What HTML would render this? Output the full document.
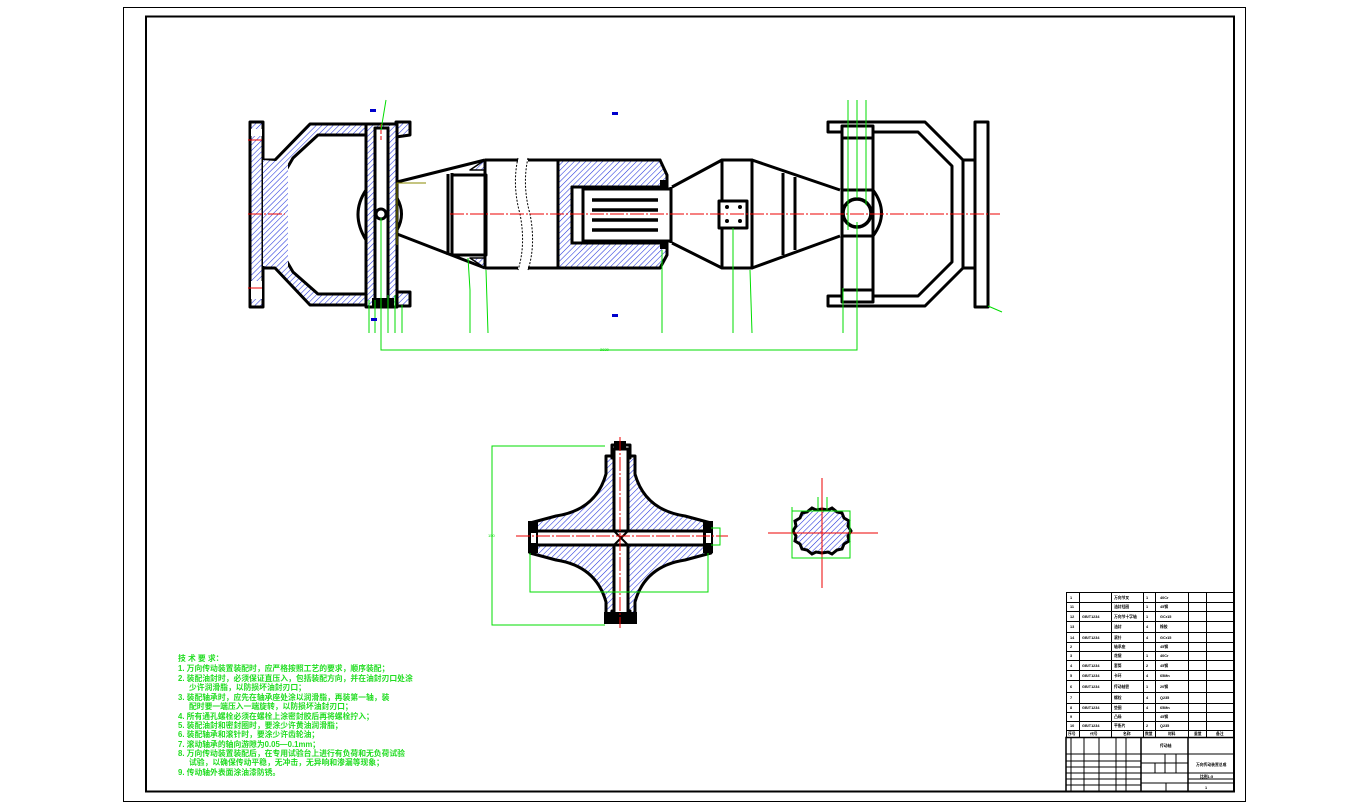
<!DOCTYPE html>
<html><head><meta charset="utf-8"><style>
html,body{margin:0;padding:0;background:#fff;}
svg{display:block;}
.t{font-family:"Liberation Sans","Noto Sans CJK SC",sans-serif;}
</style></head><body>
<svg width="1369" height="809" viewBox="0 0 1369 809" xmlns="http://www.w3.org/2000/svg">
<defs>
<pattern id="h" width="4" height="4" patternUnits="userSpaceOnUse" patternTransform="rotate(45)">
<rect width="4" height="4" fill="#fff"/><line x1="0" y1="0" x2="0" y2="4" stroke="#2233dd" stroke-width="1.1"/>
</pattern>
</defs>
<rect x="0" y="0" width="1369" height="809" fill="#fff"/>
<rect x="123.5" y="7.5" width="1122" height="794" fill="none" stroke="#000" stroke-width="1"/>
<rect x="146" y="16.5" width="1088" height="775" fill="none" stroke="#000" stroke-width="2"/>

<!-- ===== LEFT YOKE ===== -->
<g stroke="#000" stroke-width="3" stroke-linejoin="round">
<rect x="250" y="122" width="13" height="185" fill="url(#h)"/>
<rect x="251" y="129" width="11" height="7" fill="#fff" stroke="none"/>
<rect x="251" y="281" width="11" height="18" fill="#fff" stroke="none"/>
<path d="M263,160 L275,160 L310,124 L366,124 L366,135 L318,135 L293,158 L286,170 L286,260 L293,272 L318,294 L366,294 L366,305 L310,305 L275,268 L263,268 Z" fill="url(#h)"/>
<path d="M263,160 L288,162 L288,266 L263,266 Z" fill="url(#h)" stroke="none"/>
<path d="M396,122 L410,122 L410,135 L396,137 Z M396,292 L410,292 L410,306 L396,306 Z" fill="url(#h)"/>
<rect x="366" y="124" width="31" height="183" fill="url(#h)"/>
<rect x="375" y="128" width="13" height="175" fill="#fff"/>
<circle cx="381" cy="214" r="5" fill="#fff"/>
<path d="M366,190 Q350,214 366,240" fill="none"/>
<path d="M397,198 Q406,214 397,230" fill="none"/>
</g>
<rect x="372" y="298" width="22" height="9" fill="#000"/>
<line x1="381" y1="124" x2="381" y2="140" stroke="#e00" stroke-width="1" stroke-dasharray="4,2"/>

<!-- ===== SHAFT ===== -->
<g stroke="#000" stroke-width="3" stroke-linejoin="round" fill="none">
<path d="M397,182 L485,160 M397,234 L485,268"/>
<path d="M448,174 L448,255 M452,173 L452,256"/>
<rect x="452" y="175" width="34" height="80" fill="#fff"/>
<path d="M470,170 L485,160 L485,170 Z M470,258 L485,268 L485,258 Z" fill="url(#h)" stroke-width="1.5"/>
<path d="M485,160 L518,160 M485,268 L518,268 M528,160 L660,160 L660,268 L528,268"/>
<path d="M485,160 L485,268 M558,160 L558,268"/>
<path d="M558,160 L660,160 L667,175 L667,187 L572,187 L572,243 L667,243 L667,255 L660,268 L558,268 Z" fill="url(#h)"/>
<rect x="572" y="187" width="11" height="56" fill="#fff"/>
<rect x="583" y="189" width="88" height="52" fill="#fff"/>
<path d="M592,200 L658,200 M592,210 L658,210 M592,220 L658,220 M592,230 L658,230" stroke-width="3.5"/>
<path d="M671,187 L671,243"/>
<path d="M672,187 L722,160 M672,243 L722,268"/>
<rect x="722" y="160" width="30" height="108" fill="#fff"/>
<rect x="719" y="201" width="28" height="27" fill="#fff"/>
<path d="M752,160 L840,190 M752,268 L840,236 M783,173 L783,255 M795,177 L795,250"/>
</g>
<path d="M518,158 Q512,185 520,214 Q526,245 518,270 M528,158 Q522,185 530,214 Q536,245 528,270" fill="none" stroke="#000" stroke-width="1" stroke-dasharray="2,1.5"/>
<g fill="#000"><circle cx="727" cy="207" r="2"/><circle cx="740" cy="207" r="2"/><circle cx="727" cy="221" r="2"/><circle cx="740" cy="221" r="2"/>
<rect x="660" y="180" width="8" height="8"/><rect x="660" y="241" width="8" height="8"/></g>
<path d="M397,245 L397,183 L426,183" fill="none" stroke="#880" stroke-width="1"/>

<!-- ===== RIGHT YOKE ===== -->
<g stroke="#000" stroke-width="3" stroke-linejoin="round" fill="none">
<path d="M828,122 L925,122 L963,160 L963,268 L925,306 L828,306 L828,296 L918,296 L952,262 L952,166 L918,132 L828,132 Z" fill="#fff"/>
<rect x="842" y="126" width="31" height="176" fill="#fff"/>
<path d="M842,138 L873,138 M842,290 L873,290 M842,190 L873,190 M842,236 L873,236"/>
<path d="M873,190 Q890,213 873,236"/>
<circle cx="857" cy="213" r="14" fill="#fff" stroke-width="3.5"/>
<rect x="963" y="160" width="12" height="108" fill="#fff"/>
<rect x="975" y="122" width="13" height="185" fill="#fff"/>
</g>

<g stroke="#e00" stroke-width="1" stroke-dasharray="14,2,2,2">
<line x1="248" y1="214" x2="285" y2="214"/>
<line x1="450" y1="214" x2="1000" y2="214"/>
<line x1="248" y1="140" x2="262" y2="140"/><line x1="248" y1="288" x2="262" y2="288"/>
</g>

<g stroke="#0d0" stroke-width="1" fill="none">
<path d="M381,218 L381,350 L857,350 L857,222"/>
<path d="M369,300 L369,333 M375,300 L375,333 M388,295 L388,333 M395,295 L395,333 M402,305 L402,333"/>
<path d="M468,258 L470,290 L470,333 M486,270 L488,333 M662,250 L662,290 L662,333 M733,228 L733,333 M750,270 L752,333 M843,288 L843,333 M848,230 L848,100 M857,198 L857,100 M866,205 L866,100"/>
<path d="M381,130 L386,100 M988,306 L1002,312"/>
</g>
<g fill="#00c"><rect x="370" y="109" width="6" height="3"/><rect x="612" y="112" width="6" height="3"/><rect x="612" y="314" width="6" height="3"/><rect x="371" y="318" width="6" height="3"/></g>
<text x="600" y="351" class="t" font-size="4" fill="#0d0">2830</text>

<!-- ===== CROSS ===== -->
<g stroke="#000" stroke-width="3" stroke-linejoin="round">
<path d="M606,456 L606,474 Q596,510 556,516 L530,523 L530,553 L556,560 Q596,566 606,602 L606,622 L635,622 L635,602 Q645,566 685,560 L711,553 L711,523 L685,516 Q645,510 635,474 L635,456 Z" fill="url(#h)"/>
<path d="M612,445 L630,445 L630,458 L612,458 Z M612,611 L630,611 L630,622 L612,622 Z" fill="#fff"/>
<rect x="614" y="449" width="14" height="170" fill="#fff"/>
<rect x="536" y="531" width="170" height="14" fill="#fff"/>
</g>
<g fill="#000"><rect x="528" y="521" width="10" height="32"/><rect x="703" y="521" width="10" height="32"/><rect x="604" y="612" width="33" height="12"/><rect x="614" y="441" width="12" height="8"/></g>
<rect x="531" y="533" width="5" height="10" fill="#fff"/>
<rect x="706" y="533" width="5" height="10" fill="#fff"/>
<path d="M614,531 L628,545 M628,531 L614,545" stroke="#000" stroke-width="2"/>
<g stroke="#e00" stroke-width="1" stroke-dasharray="14,2,2,2"><line x1="620" y1="437" x2="620" y2="628"/><line x1="516" y1="536" x2="728" y2="536"/></g>
<g stroke="#0d0" stroke-width="1" fill="none">
<path d="M605,446 L492,446 L492,625 L605,625 M530,553 L530,592 L708,592 L708,553 M711,528 L720,528 L720,545 L711,545"/>
</g>
<text x="488" y="537" class="t" font-size="4" fill="#0d0">150</text>

<!-- ===== SPLINE ===== -->
<path d="M822,509 l6,1 l4,-2 l5,4 l5,1 l2,5 l5,3 l-1,5 l3,5 l-3,5 l1,5 l-5,3 l-2,5 l-5,1 l-5,4 l-4,-2 l-6,1 l-6,-1 l-4,2 l-5,-4 l-5,-1 l-2,-5 l-5,-3 l1,-5 l-3,-5 l3,-5 l-1,-5 l5,-3 l2,-5 l5,-1 l5,-4 l4,2 Z" fill="url(#h)" stroke="#000" stroke-width="3"/>
<g stroke="#e00" stroke-width="1"><line x1="822" y1="478" x2="822" y2="588"/><line x1="768" y1="533" x2="878" y2="533"/></g>
<g stroke="#0d0" stroke-width="1" fill="none"><path d="M792,507 L792,558 L850,558 L850,511 L792,511 M818,497 L818,510 M827,497 L827,510"/></g>

<!-- ===== TECH REQUIREMENTS ===== -->
<g class="t" font-size="7.8" fill="#2d2" font-weight="bold">
<text x="178" y="661">技 术 要 求：</text>
<text x="178" y="671">1. 万向传动装置装配时，应严格按照工艺的要求，顺序装配；</text>
<text x="178" y="681">2. 装配油封时，必须保证直压入，包括装配方向，并在油封刃口处涂</text>
<text x="189" y="690">少许润滑脂，以防损坏油封刃口；</text>
<text x="178" y="700">3. 装配轴承时，应先在轴承座处涂以润滑脂，再装第一轴，装</text>
<text x="189" y="709">配时要一端压入一端旋转，以防损坏油封刃口；</text>
<text x="178" y="719">4. 所有通孔螺栓必须在螺栓上涂密封胶后再将螺栓拧入；</text>
<text x="178" y="728">5. 装配油封和密封圈时，要涂少许黄油润滑脂；</text>
<text x="178" y="737">6. 装配轴承和滚针时，要涂少许齿轮油；</text>
<text x="178" y="747">7. 滚动轴承的轴向游隙为0.05—0.1mm；</text>
<text x="178" y="756">8. 万向传动装置装配后，在专用试验台上进行有负荷和无负荷试验</text>
<text x="189" y="765">试验，以确保传动平稳，无冲击，无异响和渗漏等现象；</text>
<text x="178" y="775">9. 传动轴外表面涂油漆防锈。</text>
</g>

<!-- ===== BOM TABLE ===== -->
<g stroke="#000" stroke-width="1" fill="none">
<rect x="1066.5" y="592.5" width="167" height="145"/>
<path d="M1079.5,593 V737 M1111.5,593 V737 M1143.5,593 V737 M1155.5,593 V737 M1188.5,593 V737 M1206.5,593 V737"/>
<path d="M1067,602.5 H1234 M1067,611.5 H1234 M1067,621.5 H1234 M1067,632.5 H1234 M1067,642.5 H1234 M1067,651.5 H1234 M1067,660.5 H1234 M1067,670.5 H1234 M1067,680.5 H1234 M1067,692.5 H1234 M1067,703.5 H1234 M1067,712.5 H1234 M1067,721.5 H1234 M1067,730.5 H1234"/>
</g>
<g stroke="#000" stroke-width="1.5" fill="none">
<rect x="1066" y="737.5" width="168" height="54"/>
<path d="M1141,738 V791 M1188,738 V791"/>
</g>
<g stroke="#000" stroke-width="1" fill="none">
<path d="M1071,738 V791 M1084,738 V791 M1099,738 V791 M1116,738 V791 M1126,738 V791 M1066,754 H1141 M1066,761 H1141 M1066,767 H1141 M1066,773 H1141 M1066,779 H1141 M1066,785 H1141"/>
<path d="M1141,754 H1234 M1141,773 H1234 M1188,779 H1234 M1141,783 H1234 M1165,754 V773 M1176,754 V773 M1155,763 V773 M1141,763 H1188 M1166,783 V791"/>
</g>
<g class="t" font-size="3.8" fill="#000" font-weight="bold">
<text x="1070" y="599">1</text><text x="1070" y="608">11</text><text x="1070" y="618">12</text><text x="1070" y="628">13</text><text x="1070" y="639">14</text>
<text x="1070" y="648">2</text><text x="1070" y="657">3</text><text x="1070" y="667">4</text><text x="1070" y="677">5</text><text x="1070" y="688">6</text><text x="1070" y="699">7</text><text x="1070" y="709">8</text><text x="1070" y="718">9</text><text x="1070" y="727">10</text>
<text x="1114" y="599">万向节叉</text><text x="1114" y="608">油封挡圈</text><text x="1114" y="618">万向节十字轴</text><text x="1114" y="628">油封</text><text x="1114" y="639">滚针</text>
<text x="1114" y="648">轴承座</text><text x="1114" y="657">花键</text><text x="1114" y="667">套筒</text><text x="1114" y="677">卡环</text><text x="1114" y="688">传动轴管</text><text x="1114" y="699">螺栓</text><text x="1114" y="709">垫圈</text><text x="1114" y="718">凸缘</text><text x="1114" y="727">平衡片</text>
<text x="1082" y="618">GB/T1234</text><text x="1082" y="639">GB/T1234</text><text x="1082" y="667">GB/T1234</text><text x="1082" y="677">GB/T1234</text><text x="1082" y="688">GB/T1234</text><text x="1082" y="709">GB/T1234</text><text x="1082" y="727">GB/T1234</text>
<text x="1146" y="599">1</text><text x="1146" y="608">1</text><text x="1146" y="618">1</text><text x="1146" y="628">4</text><text x="1146" y="639">4</text><text x="1146" y="657">1</text><text x="1146" y="667">2</text><text x="1146" y="677">4</text><text x="1146" y="688">1</text><text x="1146" y="699">4</text><text x="1146" y="709">4</text><text x="1146" y="727">2</text>
<text x="1160" y="599">40Cr</text><text x="1160" y="608">45钢</text><text x="1160" y="618">GCr15</text><text x="1160" y="628">橡胶</text><text x="1160" y="639">GCr15</text>
<text x="1160" y="648">45钢</text><text x="1160" y="657">40Cr</text><text x="1160" y="667">45钢</text><text x="1160" y="677">65Mn</text><text x="1160" y="688">20钢</text><text x="1160" y="699">Q235</text><text x="1160" y="709">65Mn</text><text x="1160" y="718">45钢</text><text x="1160" y="727">Q235</text>
<text x="1068" y="735">序号</text><text x="1090" y="735">代号</text><text x="1123" y="735">名称</text><text x="1145" y="735">数量</text><text x="1168" y="735">材料</text><text x="1194" y="735">重量</text><text x="1216" y="735">备注</text>
<text x="1160" y="747">传动轴</text><text x="1196" y="766">万向传动装置总成</text><text x="1200" y="778">比例1:5</text><text x="1205" y="789">1</text>
</g>
</svg>
</body></html>
